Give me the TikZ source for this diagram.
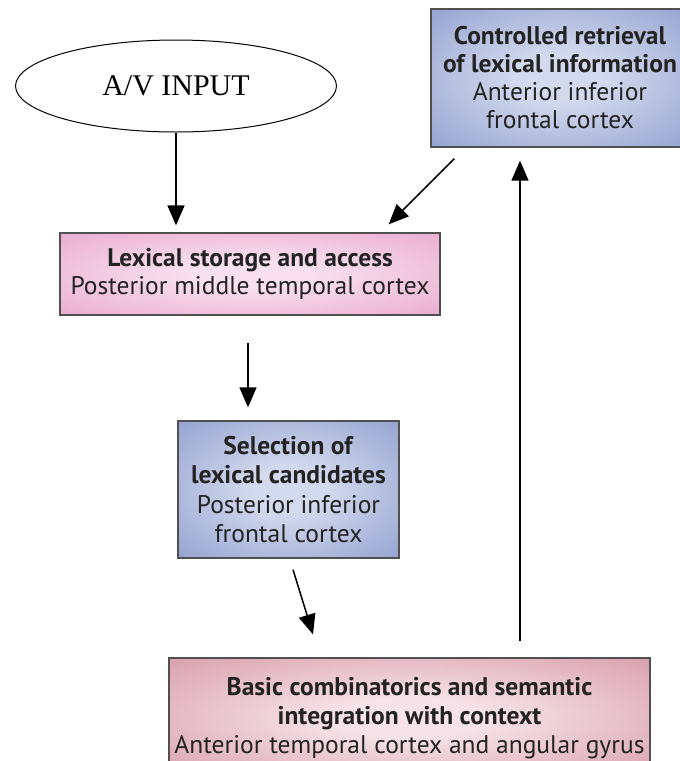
\documentclass[tikz,border=0pt]{standalone}
\usepackage{fontspec}
\setmainfont{PT Sans}
\newfontfamily\timesfont{Liberation Serif}
\usetikzlibrary{arrows.meta,shapes.geometric,calc}
\definecolor{blueout}{RGB}{120,140,195}
\definecolor{bluein}{RGB}{212,218,238}
\definecolor{pinkout}{RGB}{228,150,194}
\definecolor{pinkin}{RGB}{248,224,238}
\definecolor{roseout}{RGB}{204,130,148}
\definecolor{rosein}{RGB}{246,226,232}
\definecolor{edgegray}{RGB}{80,80,80}
\definecolor{txt}{RGB}{35,35,35}
\makeatletter
\pgfdeclareradialshading[tikz@radial@inner,tikz@radial@outer]{softradial}{\pgfpoint{0bp}{0bp}}{color(0bp)=(tikz@radial@inner); color(8bp)=(tikz@radial@inner); color(48bp)=(tikz@radial@outer); color(70bp)=(tikz@radial@outer)}
\makeatother
\tikzset{
  box/.style={draw=edgegray, line width=1.3pt, rectangle, align=center, text=txt,
    font=\fontsize{25.5}{28}\selectfont, inner sep=0pt},
  bluebox/.style={box, inner color=bluein, outer color=blueout, shading=softradial},
  pinkbox/.style={box, inner color=pinkin, outer color=pinkout, shading=softradial},
  rosebox/.style={box, inner color=rosein, outer color=roseout, shading=softradial},
  arr/.style={line width=1.5pt, -{Triangle[length=20pt,width=17pt]}}
}
\begin{document}
\begin{tikzpicture}[x=1pt,y=-1pt]
\useasboundingbox (0,0) rectangle (680,761);
\node[ellipse, draw, line width=1pt, minimum width=321pt, minimum height=92pt, inner sep=0pt,
  font=\timesfont\fontsize{30}{34}\selectfont] (av) at (176,86) {A/V INPUT};
\node[bluebox, minimum width=258pt, minimum height=138pt] (ctrl) at (560,78)
  {\textbf{Controlled retrieval}\\\textbf{of lexical information}\\Anterior inferior\\frontal cortex};
\node[pinkbox, minimum width=380pt, minimum height=82pt] (lex) at (250,274)
  {\textbf{Lexical storage and access}\\Posterior middle temporal cortex};
\node[bluebox, minimum width=221pt, minimum height=137pt, font=\fontsize{25.5}{29.5}\selectfont] (sel) at (288.5,489.5)
  {\textbf{Selection of}\\\textbf{lexical candidates}\\Posterior inferior\\frontal cortex};
\node[rosebox, minimum width=481pt, minimum height=120pt, font=\fontsize{25.5}{29}\selectfont] (basic) at (409.5,718)
  {\textbf{Basic combinatorics and semantic}\\\textbf{integration with context}\\Anterior temporal cortex and angular gyrus};
\draw[arr] (av.south) -- ([yshift=7pt]av.south |- lex.north);
\draw[arr] ([xshift=24pt,yshift=-11pt]ctrl.south west) -- ([xshift=-52pt,yshift=8pt]lex.north east);
\draw[arr] ([xshift=-2pt,yshift=-27pt]lex.south) -- ([xshift=-2pt,yshift=13pt]lex.south |- sel.north);
\draw[arr] ([xshift=4.5pt,yshift=-11pt]sel.south) -- ([xshift=-96.5pt,yshift=23pt]basic.north);
\draw[arr] ([xshift=110.5pt,yshift=16pt]basic.north) -- ([xshift=110.5pt,yshift=-13pt]basic.north |- ctrl.south);
\end{tikzpicture}
\end{document}
